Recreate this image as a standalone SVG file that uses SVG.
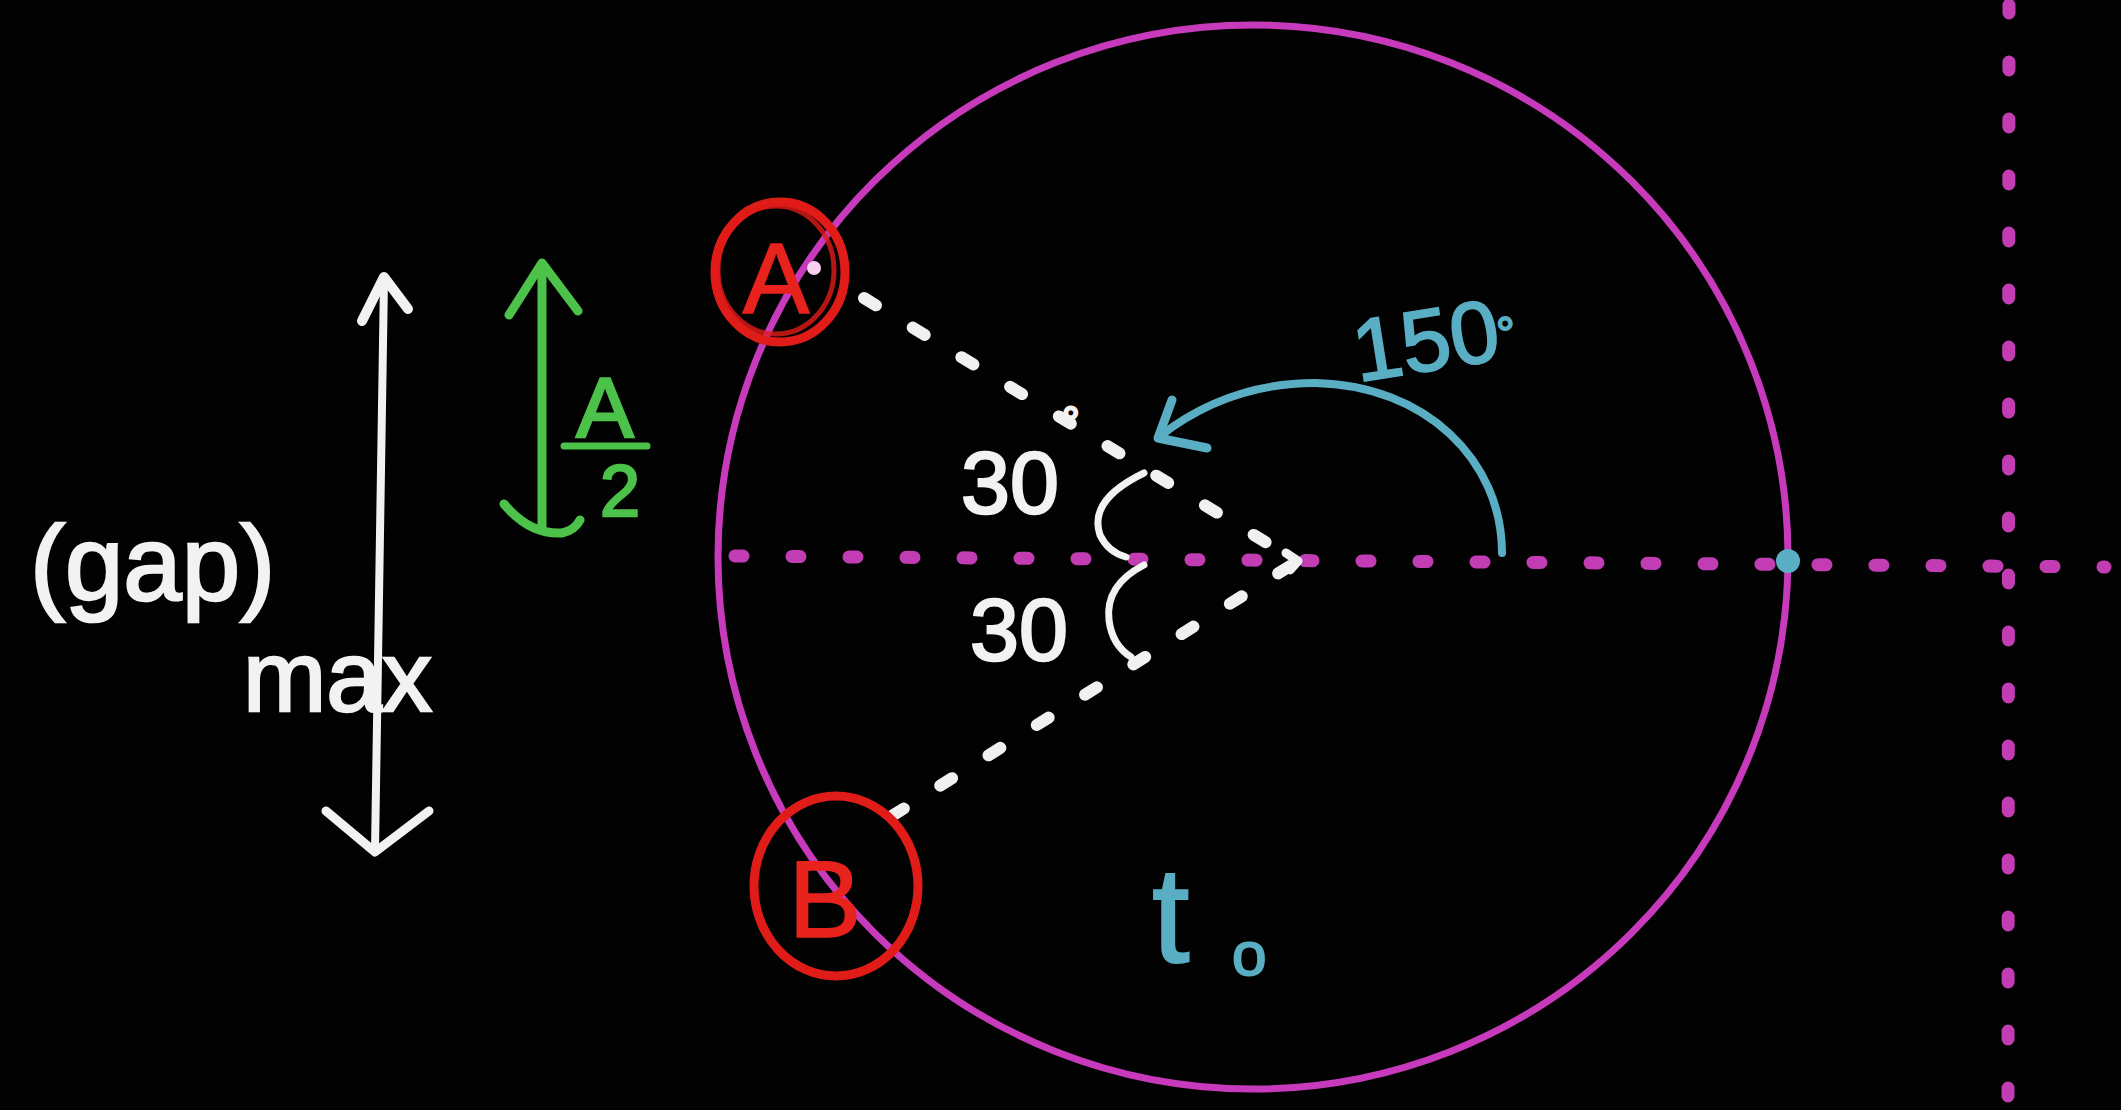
<svg xmlns="http://www.w3.org/2000/svg" width="2121" height="1110" viewBox="0 0 2121 1110">
<style>
.w{fill:#f2f2f2;stroke:#f2f2f2;stroke-width:2.5;font-family:"Liberation Sans",Arial,sans-serif}
.r{fill:#e8221c;stroke:#e8221c;stroke-width:1.5;font-family:"Liberation Sans",Arial,sans-serif}
.g{fill:#4cc24a;stroke:#4cc24a;stroke-width:2.5;font-family:"Liberation Sans",Arial,sans-serif}
.c{fill:#5aaec4;stroke:#5aaec4;stroke-width:2;font-family:"Liberation Sans",Arial,sans-serif}
.ws{stroke:#f2f2f2;fill:none;stroke-linecap:round;stroke-linejoin:round}
.dot{stroke:#c23cb4;fill:none;stroke-linecap:round;stroke-width:13;stroke-dasharray:8 49}
.wd{stroke:#f0f0f0;fill:none;stroke-linecap:round;stroke-width:12;stroke-dasharray:14 43}
</style>
<rect x="0" y="0" width="2121" height="1110" fill="#030203"/>
<g id="axes">
<path class="dot" d="M735,556 L2105,567"/>
<path class="dot" d="M2009,5 L2008,1108"/>
</g>
<g id="circle">
<ellipse cx="1253" cy="557" rx="535" ry="532" fill="none" stroke="#c83abc" stroke-width="7"/>
</g>
<g id="radii">
<path class="wd" d="M864,298 L1290,557"/>
<path class="wd" d="M1290,566 L860,836"/>
<path class="ws" stroke-width="9" d="M1286,553 L1298,561 L1290,570"/>
<circle cx="814" cy="268" r="7" fill="#f8d0f0"/>
</g>
<g id="angle-marks">
<path class="ws" stroke-width="7" d="M1144,473 Q1088,500 1100,535 Q1108,552 1126,557"/>
<path class="ws" stroke-width="7" d="M1144,565 Q1105,585 1109,620 Q1112,645 1131,657"/>
<text class="w" x="961" y="513" font-size="88">30</text>
<text class="w" x="1062" y="438" font-size="44">°</text>
<text class="w" x="970" y="660" font-size="88">30</text>
</g>
<g id="point-A">
<ellipse cx="780" cy="272" rx="65" ry="70" fill="none" stroke="#e01c18" stroke-width="9"/>
<ellipse cx="776" cy="270" rx="58" ry="64" fill="none" stroke="#e01c18" stroke-width="5" opacity="0.8"/>
<text class="r" x="776" y="313" font-size="100" text-anchor="middle">A</text>
</g>
<g id="point-B">
<ellipse cx="836" cy="886" rx="82" ry="90" fill="none" stroke="#e01c18" stroke-width="9"/>
<text class="r" x="825" y="937" font-size="110" text-anchor="middle">B</text>
</g>
<g id="phase-arrow">
<path fill="none" stroke="#5aaec4" stroke-width="8" stroke-linecap="round" d="M1502,553 C1502,460 1425,385 1315,383 C1250,383 1200,405 1160,436"/>
<path fill="none" stroke="#5aaec4" stroke-width="9" stroke-linecap="round" stroke-linejoin="round" d="M1172,400 L1158,438 L1207,448"/>
<text class="c" x="1358" y="382" font-size="88" transform="rotate(-9 1358 382)">150</text>
<text class="c" x="1496" y="350" font-size="46">°</text>
<circle cx="1788" cy="561" r="12" fill="#5aaec4"/>
</g>
<g id="t0">
<text class="c" x="1152" y="962" font-size="135">t</text>
<text class="c" x="1232" y="975" font-size="62">o</text>
</g>
<g id="gap-arrow">
<path class="ws" stroke-width="8" d="M384,280 L375,850"/>
<path class="ws" stroke-width="10" d="M362,321 L384,277 L408,309"/>
<path class="ws" stroke-width="9" d="M326,811 L375,852 L429,811"/>
<text class="w" x="30" y="600" font-size="105">(gap)</text>
<text class="w" x="243" y="711" font-size="100">max</text>
</g>
<g id="half-amplitude">
<path fill="none" stroke="#4cc24a" stroke-width="9" stroke-linecap="round" d="M542,265 L542,528"/>
<path fill="none" stroke="#4cc24a" stroke-width="9" stroke-linecap="round" stroke-linejoin="round" d="M509,315 L542,263 L578,311"/>
<path fill="none" stroke="#4cc24a" stroke-width="9" stroke-linecap="round" d="M504,504 Q530,535 562,533 Q575,530 580,520"/>
<text class="g" x="605" y="437" font-size="86" text-anchor="middle">A</text>
<path stroke="#4cc24a" stroke-width="7" stroke-linecap="round" d="M564,446 L647,446"/>
<text class="g" x="620" y="516" font-size="72" text-anchor="middle">2</text>
</g>
</svg>
